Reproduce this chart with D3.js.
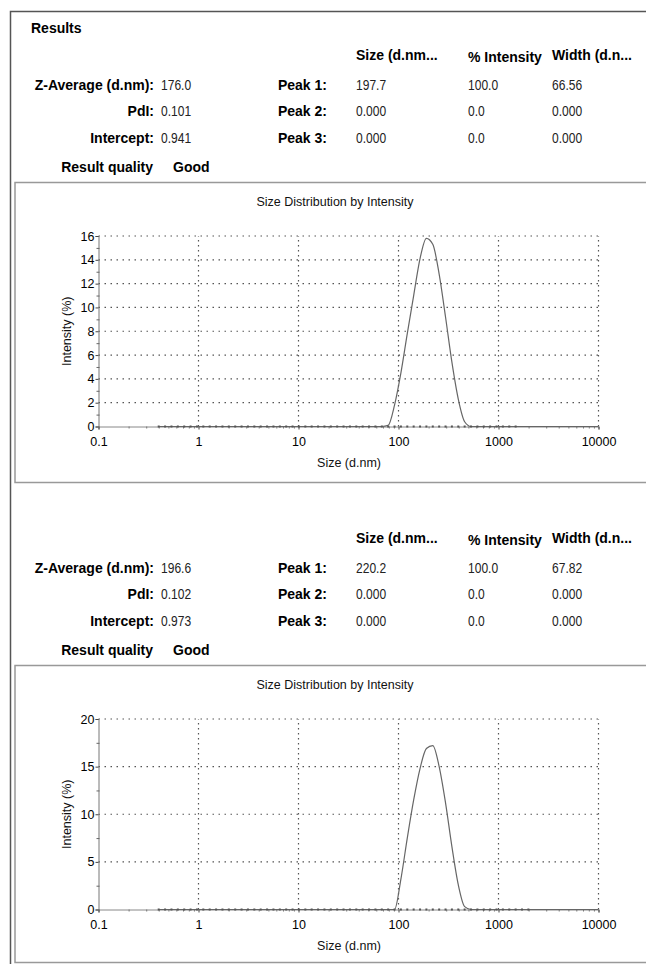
<!DOCTYPE html>
<meta charset="utf-8">
<style>
  body { margin: 0; background: #fff; }
  text { font-family: "Liberation Sans", Arial, sans-serif; }
</style>
<svg width="646" height="964"></svg>
<script src="https://d3js.org/d3.v7.min.js"></script>
<script>

// size classes (d.nm) of the instrument
var sizes = [0.4, 0.4632, 0.5365, 0.6213, 0.7195, 0.8332, 0.9649, 1.117, 1.294, 1.499,
  1.736, 2.010, 2.328, 2.696, 3.122, 3.615, 4.187, 4.849, 5.615, 6.503,
  7.531, 8.721, 10.10, 11.70, 13.54, 15.69, 18.17, 21.04, 24.36, 28.21,
  32.67, 37.84, 43.82, 50.75, 58.77, 68.06, 78.82, 91.28, 105.7, 122.4,
  141.8, 164.2, 190.1, 220.2, 255.0, 295.3, 342.0, 396.1, 458.7, 531.2,
  615.1, 712.4, 825.0, 955.4, 1106, 1281, 1484, 1718, 1990, 2305,
  2669, 3091, 3580, 4145, 4801, 5560, 6439, 7456, 8635, 10000];

// intensity (%)
var intensity1 = [0, 0, 0, 0, 0, 0, 0, 0, 0, 0,
  0, 0, 0, 0, 0, 0, 0, 0, 0, 0,
  0, 0, 0, 0, 0, 0, 0, 0, 0, 0,
  0, 0, 0, 0, 0, 0, 0.1, 1.8, 4.5, 7.8,
  11.0, 14.1, 15.8, 15.3, 12.8, 9.2, 5.4, 2.3, 0.4, 0,
  0, 0, 0, 0, 0, 0, 0, 0, 0, 0,
  0, 0, 0, 0, 0, 0, 0, 0, 0, 0];

var intensity2 = [0, 0, 0, 0, 0, 0, 0, 0, 0, 0,
  0, 0, 0, 0, 0, 0, 0, 0, 0, 0,
  0, 0, 0, 0, 0, 0, 0, 0, 0, 0,
  0, 0, 0, 0, 0, 0, 0, 0, 3.2, 7.5,
  11.5, 14.8, 16.9, 17.2, 15.0, 11.2, 6.6, 2.6, 0.3, 0,
  0, 0, 0, 0, 0, 0, 0, 0, 0, 0,
  0, 0, 0, 0, 0, 0, 0, 0, 0, 0];

var xTicks = [0.1, 1, 10, 100, 1000, 10000],
    xTickLabels = ["0.1", "1", "10", "100", "1000", "10000"];

var yMax1 = 16, yTicks1 = [0, 2, 4, 6, 8, 10, 12, 14, 16], yMinor1 = [1, 3, 5, 7, 9, 11, 13, 15];
var yMax2 = 20, yTicks2 = [0, 5, 10, 15, 20], yMinor2 = [2.5, 7.5, 12.5, 17.5];

var colHeaders = ["Size (d.nm...", "% Intensity", "Width (d.n..."];
var summaryLabels = ["Z-Average (d.nm):", "PdI:", "Intercept:"];
var peakLabels = ["Peak 1:", "Peak 2:", "Peak 3:"];

var summary1 = ["176.0", "0.101", "0.941"],
    peaks1 = [["197.7", "100.0", "66.56"], ["0.000", "0.0", "0.000"], ["0.000", "0.0", "0.000"]],
    quality1 = "Good";

var summary2 = ["196.6", "0.102", "0.973"],
    peaks2 = [["220.2", "100.0", "67.82"], ["0.000", "0.0", "0.000"], ["0.000", "0.0", "0.000"]],
    quality2 = "Good";

var chartTitle = "Size Distribution by Intensity",
    xTitle = "Size (d.nm)",
    yTitle = "Intensity (%)";

var svg = d3.select("svg");

svg.append("rect").attr("width", 646).attr("height", 964).attr("fill", "#fff");

// outer frame
svg.append("path")
    .attr("d", "M10.5,964V11.5H646")
    .attr("fill", "none")
    .attr("stroke", "#555")
    .attr("stroke-width", 1.5);

svg.append("text")
    .attr("x", 31).attr("y", 33)
    .style("font-size", "14px").style("font-weight", "bold")
    .text("Results");

drawSection(0, summary1, peaks1, quality1, intensity1, yMax1, yTicks1, yMinor1, 300);
drawSection(483, summary2, peaks2, quality2, intensity2, yMax2, yTicks2, yMinor2, 297);

function drawSection(dy, summary, peaks, quality, values, yMax, yTicks, yMinor, panelH) {
  var g = svg.append("g").attr("transform", "translate(0," + dy + ")");

  // results table
  var headerY = [60, 62, 60], colX = [356, 468, 552], rowY = [89.5, 116, 143];

  colHeaders.forEach(function(h, i) {
    g.append("text").attr("x", colX[i]).attr("y", headerY[i])
        .style("font-size", "14px").style("font-weight", "bold").text(h);
  });

  summaryLabels.forEach(function(l, i) {
    g.append("text").attr("x", 154).attr("y", rowY[i]).attr("text-anchor", "end")
        .style("font-size", "14px").style("font-weight", "bold").text(l);
    valueText(g, 161, rowY[i], summary[i]);
    g.append("text").attr("x", 327).attr("y", rowY[i]).attr("text-anchor", "end")
        .style("font-size", "14px").style("font-weight", "bold").text(peakLabels[i]);
    peaks[i].forEach(function(v, j) { valueText(g, colX[j], rowY[i], v); });
  });

  g.append("text").attr("x", 153).attr("y", 171.5).attr("text-anchor", "end")
      .style("font-size", "14px").style("font-weight", "bold").text("Result quality");
  g.append("text").attr("x", 173).attr("y", 171.5)
      .style("font-size", "14px").style("font-weight", "bold").text(quality);

  // plot panel
  g.append("rect")
      .attr("x", 15).attr("y", 182.5)
      .attr("width", 700).attr("height", panelH)
      .attr("fill", "none").attr("stroke", "#999").attr("stroke-width", 1.5);

  var x = d3.scaleLog().domain([0.1, 10000]).range([98.5, 598.5]),
      y = d3.scaleLinear().domain([0, yMax]).range([426.5, 236]);

  // dotted grid
  g.append("g").selectAll("line").data(yTicks.slice(1)).enter().append("line")
      .attr("x1", x(0.1)).attr("x2", x(10000))
      .attr("y1", function(d) { return y(d); }).attr("y2", function(d) { return y(d); })
      .attr("stroke", "#555").attr("stroke-width", 1.2).attr("stroke-dasharray", "1.5,4.5");
  g.append("g").selectAll("line").data(xTicks.slice(1)).enter().append("line")
      .attr("x1", function(d) { return x(d); }).attr("x2", function(d) { return x(d); })
      .attr("y1", y(0)).attr("y2", y(yMax))
      .attr("stroke", "#555").attr("stroke-width", 1.2).attr("stroke-dasharray", "1.5,3.5");

  // axes
  var yAxis = g.append("g")
      .attr("transform", "translate(" + x(0.1) + ",0)")
      .call(d3.axisLeft(y).tickValues(yTicks).tickSize(3).tickPadding(1).tickFormat(d3.format("d")));
  yAxis.select(".domain").attr("stroke", "#777");
  yAxis.selectAll("line").attr("stroke", "#444");
  yAxis.selectAll("text").style("font-size", "12.5px").attr("fill", "#000");

  g.append("g")
      .attr("transform", "translate(" + (x(0.1) + 1) + ",0)")
      .call(d3.axisLeft(y).tickValues(yMinor).tickSize(3).tickFormat(""))
      .call(function(a) { a.select(".domain").remove(); a.selectAll("line").attr("stroke", "#666"); });

  var xAxis = g.append("g")
      .attr("transform", "translate(0," + y(0) + ")")
      .call(d3.axisBottom(x).tickValues(xTicks).tickSize(3).tickPadding(8)
          .tickFormat(function(d, i) { return xTickLabels[i]; }));
  xAxis.select(".domain").attr("stroke", "#888");
  xAxis.selectAll("line").attr("stroke", "#444");
  xAxis.selectAll("text").style("font-size", "12.5px").attr("fill", "#000");

  var minor = [];
  xTicks.slice(0, -1).forEach(function(t) { [2, 3, 4, 5, 6, 7, 8, 9].forEach(function(m) { minor.push(t * m); }); });
  g.append("g")
      .attr("transform", "translate(0," + y(0) + ")")
      .call(d3.axisBottom(x).tickValues(minor).tickSize(2).tickFormat(""))
      .call(function(a) { a.select(".domain").remove(); a.selectAll("line").attr("stroke", "#777"); });

  // distribution
  var line = d3.line()
      .x(function(d, i) { return x(sizes[i]); })
      .y(function(d) { return y(d); })
      .curve(d3.curveMonotoneX);

  g.append("path")
      .datum(values)
      .attr("d", line)
      .attr("fill", "none")
      .attr("stroke", "#666")
      .attr("stroke-width", 1.2);

  // markers only show up along the baseline in the original
  g.append("g").selectAll("rect").data(values).enter().append("rect")
      .filter(function(d) { return d === 0; })
      .attr("x", function(d, i) { return x(sizes[i]) - 1; })
      .attr("y", function(d) { return y(d) - 1; })
      .attr("width", 2).attr("height", 2)
      .attr("fill", "#555");

  // titles
  g.append("text").attr("x", 335).attr("y", 206).attr("text-anchor", "middle")
      .style("font-size", "12.5px").attr("fill", "#111").text(chartTitle);
  g.append("text").attr("x", 349).attr("y", 466.5).attr("text-anchor", "middle")
      .style("font-size", "12.5px").attr("fill", "#111").text(xTitle);
  g.append("text")
      .attr("transform", "translate(71," + ((236 + 426.5) / 2) + ") rotate(-90)")
      .attr("text-anchor", "middle")
      .style("font-size", "12.5px").attr("fill", "#111").text(yTitle);
}

// the numbers in the table are set in a narrow face
function valueText(g, px, py, s) {
  g.append("text")
      .attr("transform", "translate(" + px + "," + py + ") scale(0.86,1)")
      .style("font-size", "14px").attr("fill", "#222")
      .text(s);
}

</script>
